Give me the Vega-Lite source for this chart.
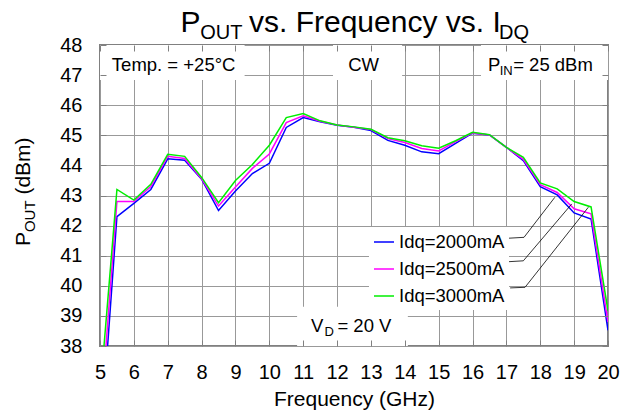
{
  "$schema": "https://vega.github.io/schema/vega-lite/v6.json",
  "width": 508,
  "height": 301,
  "autosize": {"type": "none"},
  "padding": {"left": 100, "top": 45, "right": 12, "bottom": 72},
  "background": "white",
  "config": {
    "font": "Liberation Sans",
    "view": {"stroke": "#808080", "strokeWidth": 2}
  },
  "datasets": {
    "curves": [
      {"f": 5, "p": 34.5, "s": "Idq=2000mA"}, {"f": 5.5, "p": 42.3, "s": "Idq=2000mA"}, {"f": 6, "p": 42.74, "s": "Idq=2000mA"}, {"f": 6.5, "p": 43.2, "s": "Idq=2000mA"},
      {"f": 7, "p": 44.22, "s": "Idq=2000mA"}, {"f": 7.5, "p": 44.17, "s": "Idq=2000mA"}, {"f": 8, "p": 43.54, "s": "Idq=2000mA"}, {"f": 8.5, "p": 42.5, "s": "Idq=2000mA"},
      {"f": 9, "p": 43.15, "s": "Idq=2000mA"}, {"f": 9.5, "p": 43.73, "s": "Idq=2000mA"}, {"f": 10, "p": 44.07, "s": "Idq=2000mA"}, {"f": 10.5, "p": 45.26, "s": "Idq=2000mA"},
      {"f": 11, "p": 45.59, "s": "Idq=2000mA"}, {"f": 11.5, "p": 45.45, "s": "Idq=2000mA"}, {"f": 12, "p": 45.33, "s": "Idq=2000mA"}, {"f": 12.5, "p": 45.27, "s": "Idq=2000mA"},
      {"f": 13, "p": 45.16, "s": "Idq=2000mA"}, {"f": 13.5, "p": 44.83, "s": "Idq=2000mA"}, {"f": 14, "p": 44.67, "s": "Idq=2000mA"}, {"f": 14.5, "p": 44.45, "s": "Idq=2000mA"},
      {"f": 15, "p": 44.39, "s": "Idq=2000mA"}, {"f": 15.5, "p": 44.73, "s": "Idq=2000mA"}, {"f": 16, "p": 45.07, "s": "Idq=2000mA"}, {"f": 16.5, "p": 45.01, "s": "Idq=2000mA"},
      {"f": 17, "p": 44.6, "s": "Idq=2000mA"}, {"f": 17.5, "p": 44.16, "s": "Idq=2000mA"}, {"f": 18, "p": 43.29, "s": "Idq=2000mA"}, {"f": 18.5, "p": 43.02, "s": "Idq=2000mA"},
      {"f": 19, "p": 42.42, "s": "Idq=2000mA"}, {"f": 19.5, "p": 42.22, "s": "Idq=2000mA"}, {"f": 20, "p": 38.52, "s": "Idq=2000mA"},
      {"f": 5, "p": 35.4, "s": "Idq=2500mA"}, {"f": 5.5, "p": 42.8, "s": "Idq=2500mA"}, {"f": 6, "p": 42.8, "s": "Idq=2500mA"}, {"f": 6.5, "p": 43.3, "s": "Idq=2500mA"},
      {"f": 7, "p": 44.3, "s": "Idq=2500mA"}, {"f": 7.5, "p": 44.23, "s": "Idq=2500mA"}, {"f": 8, "p": 43.56, "s": "Idq=2500mA"}, {"f": 8.5, "p": 42.65, "s": "Idq=2500mA"},
      {"f": 9, "p": 43.28, "s": "Idq=2500mA"}, {"f": 9.5, "p": 43.9, "s": "Idq=2500mA"}, {"f": 10, "p": 44.38, "s": "Idq=2500mA"}, {"f": 10.5, "p": 45.42, "s": "Idq=2500mA"},
      {"f": 11, "p": 45.65, "s": "Idq=2500mA"}, {"f": 11.5, "p": 45.47, "s": "Idq=2500mA"}, {"f": 12, "p": 45.34, "s": "Idq=2500mA"}, {"f": 12.5, "p": 45.27, "s": "Idq=2500mA"},
      {"f": 13, "p": 45.19, "s": "Idq=2500mA"}, {"f": 13.5, "p": 44.89, "s": "Idq=2500mA"}, {"f": 14, "p": 44.76, "s": "Idq=2500mA"}, {"f": 14.5, "p": 44.56, "s": "Idq=2500mA"},
      {"f": 15, "p": 44.48, "s": "Idq=2500mA"}, {"f": 15.5, "p": 44.79, "s": "Idq=2500mA"}, {"f": 16, "p": 45.08, "s": "Idq=2500mA"}, {"f": 16.5, "p": 45.01, "s": "Idq=2500mA"},
      {"f": 17, "p": 44.6, "s": "Idq=2500mA"}, {"f": 17.5, "p": 44.2, "s": "Idq=2500mA"}, {"f": 18, "p": 43.36, "s": "Idq=2500mA"}, {"f": 18.5, "p": 43.1, "s": "Idq=2500mA"},
      {"f": 19, "p": 42.56, "s": "Idq=2500mA"}, {"f": 19.5, "p": 42.39, "s": "Idq=2500mA"}, {"f": 20, "p": 38.8, "s": "Idq=2500mA"},
      {"f": 5, "p": 36.4, "s": "Idq=3000mA"}, {"f": 5.5, "p": 43.2, "s": "Idq=3000mA"}, {"f": 6, "p": 42.85, "s": "Idq=3000mA"}, {"f": 6.5, "p": 43.37, "s": "Idq=3000mA"},
      {"f": 7, "p": 44.37, "s": "Idq=3000mA"}, {"f": 7.5, "p": 44.3, "s": "Idq=3000mA"}, {"f": 8, "p": 43.6, "s": "Idq=3000mA"}, {"f": 8.5, "p": 42.76, "s": "Idq=3000mA"},
      {"f": 9, "p": 43.5, "s": "Idq=3000mA"}, {"f": 9.5, "p": 44.03, "s": "Idq=3000mA"}, {"f": 10, "p": 44.67, "s": "Idq=3000mA"}, {"f": 10.5, "p": 45.59, "s": "Idq=3000mA"},
      {"f": 11, "p": 45.72, "s": "Idq=3000mA"}, {"f": 11.5, "p": 45.48, "s": "Idq=3000mA"}, {"f": 12, "p": 45.34, "s": "Idq=3000mA"}, {"f": 12.5, "p": 45.28, "s": "Idq=3000mA"},
      {"f": 13, "p": 45.2, "s": "Idq=3000mA"}, {"f": 13.5, "p": 44.92, "s": "Idq=3000mA"}, {"f": 14, "p": 44.82, "s": "Idq=3000mA"}, {"f": 14.5, "p": 44.65, "s": "Idq=3000mA"},
      {"f": 15, "p": 44.57, "s": "Idq=3000mA"}, {"f": 15.5, "p": 44.82, "s": "Idq=3000mA"}, {"f": 16, "p": 45.1, "s": "Idq=3000mA"}, {"f": 16.5, "p": 45.02, "s": "Idq=3000mA"},
      {"f": 17, "p": 44.6, "s": "Idq=3000mA"}, {"f": 17.5, "p": 44.27, "s": "Idq=3000mA"}, {"f": 18, "p": 43.42, "s": "Idq=3000mA"}, {"f": 18.5, "p": 43.22, "s": "Idq=3000mA"},
      {"f": 19, "p": 42.8, "s": "Idq=3000mA"}, {"f": 19.5, "p": 42.62, "s": "Idq=3000mA"}, {"f": 20, "p": 39.17, "s": "Idq=3000mA"}
    ],
    "boxes": [
      {"x1": 5, "x2": 9.27, "y1": 46.84, "y2": 48},
      {"x1": 11.88, "x2": 13.92, "y1": 46.84, "y2": 48},
      {"x1": 16.25, "x2": 20, "y1": 46.84, "y2": 48},
      {"x1": 10.82, "x2": 14.09, "y1": 38, "y2": 39.3}
    ],
    "leaders": [
      {"id": 1, "k": 1, "x": 17.05, "y": 41.58}, {"id": 1, "k": 2, "x": 17.52, "y": 41.61}, {"id": 1, "k": 3, "x": 18.43, "y": 42.94},
      {"id": 2, "k": 1, "x": 17.05, "y": 40.8}, {"id": 2, "k": 2, "x": 17.5, "y": 40.83}, {"id": 2, "k": 3, "x": 18.93, "y": 42.72},
      {"id": 3, "k": 1, "x": 17.11, "y": 39.93}, {"id": 3, "k": 2, "x": 17.55, "y": 39.95}, {"id": 3, "k": 3, "x": 19.42, "y": 42.61}
    ],
    "notes": [
      {"x": 5.35, "y": 47.15, "t": "Temp. = +25°C"},
      {"x": 12.33, "y": 47.15, "t": "CW"},
      {"x": 16.456, "y": 47.15, "t": "P"},
      {"x": 17.2, "y": 47.15, "t": "= 25 dBm"},
      {"x": 11.23, "y": 38.475, "t": "V"},
      {"x": 12.01, "y": 38.475, "t": "= 20 V"}
    ],
    "notesub": [
      {"x": 16.8, "y": 46.99, "t": "IN"},
      {"x": 11.63, "y": 38.33, "t": "D"}
    ],
    "titlebig": [
      {"x": 7.377, "y": 48.442, "t": "P"},
      {"x": 9.399, "y": 48.442, "t": "vs. Frequency vs. I"}
    ],
    "titlesub": [
      {"x": 7.96, "y": 48.189, "t": "OUT"},
      {"x": 16.78, "y": 48.189, "t": "DQ"}
    ],
    "ytitlebig": [
      {"x": 2.933, "y": 41.32, "t": "P"},
      {"x": 2.933, "y": 43.03, "t": "(dBm)"}
    ],
    "ytitlesub": [
      {"x": 3.08, "y": 41.785, "t": "OUT"}
    ]
  },
  "resolve": {"axis": {"x": "independent", "y": "independent"}},
  "layer": [
    {
      "data": {"name": "boxes"},
      "mark": {"type": "rect", "fill": "white", "stroke": null},
      "encoding": {
        "x": {"field": "x1", "type": "quantitative", "scale": {"domain": [5, 20], "nice": false, "zero": false},
          "axis": {"orient": "top", "values": [5,6,7,8,9,10,11,12,13,14,15,16,17,18,19,20], "labels": false, "grid": false, "domain": false, "ticks": true, "tickSize": -6, "tickColor": "#808080", "tickWidth": 1, "title": null, "zindex": 1}},
        "x2": {"field": "x2"},
        "y": {"field": "y1", "type": "quantitative", "scale": {"domain": [38, 48], "nice": false, "zero": false},
          "axis": {"orient": "right", "values": [38,39,40,41,42,43,44,45,46,47,48], "labels": false, "grid": false, "domain": false, "ticks": true, "tickSize": -6, "tickColor": "#808080", "tickWidth": 1, "title": null, "zindex": 1}},
        "y2": {"field": "y2"}
      }
    },
    {
      "data": {"name": "curves"},
      "mark": {"type": "line", "clip": true, "strokeWidth": 1.5},
      "encoding": {
        "x": {"field": "f", "type": "quantitative", "scale": {"domain": [5, 20], "nice": false, "zero": false},
          "axis": {"orient": "bottom", "values": [5,6,7,8,9,10,11,12,13,14,15,16,17,18,19,20], "title": "Frequency (GHz)", "grid": true, "gridColor": "#999999", "gridWidth": 1, "domain": false, "ticks": false, "labelFontSize": 20, "labelColor": "black", "labelPadding": 16, "labelFlush": false, "labelOverlap": false, "titleFontSize": 21, "titleFontWeight": "normal", "titleColor": "black", "titlePadding": 6, "zindex": 0}},
        "y": {"field": "p", "type": "quantitative", "scale": {"domain": [38, 48], "nice": false, "zero": false},
          "axis": {"orient": "left", "values": [38,39,40,41,42,43,44,45,46,47,48], "title": null, "grid": true, "gridColor": "#999999", "gridWidth": 1, "domain": false, "ticks": false, "labelFontSize": 20, "labelColor": "black", "labelPadding": 18, "labelOverlap": false, "labelFlush": false, "zindex": 0}},
        "color": {"field": "s", "type": "nominal",
          "scale": {"domain": ["Idq=2000mA", "Idq=2500mA", "Idq=3000mA"], "range": ["#0000ff", "#ff00ff", "#00ee00"]},
          "legend": {"orient": "none", "legendX": 269, "legendY": 182, "title": null, "symbolType": "stroke", "symbolSize": 400, "symbolStrokeWidth": 1.5, "labelFontSize": 18.5, "labelColor": "black", "fillColor": "white", "padding": 4, "rowPadding": 6, "labelOffset": 4}}
      }
    },
    {
      "data": {"name": "leaders"},
      "mark": {"type": "line", "color": "black", "strokeWidth": 0.8},
      "encoding": {
        "x": {"field": "x", "type": "quantitative", "scale": {"domain": [5, 20], "nice": false, "zero": false},
          "axis": {"orient": "bottom", "values": [5,6,7,8,9,10,11,12,13,14,15,16,17,18,19,20], "labels": false, "grid": false, "domain": false, "ticks": true, "tickSize": -6, "tickColor": "#808080", "tickWidth": 1, "title": null, "zindex": 1}},
        "y": {"field": "y", "type": "quantitative", "scale": {"domain": [38, 48], "nice": false, "zero": false},
          "axis": {"orient": "left", "values": [38,39,40,41,42,43,44,45,46,47,48], "labels": false, "grid": false, "domain": false, "ticks": true, "tickSize": -6, "tickColor": "#808080", "tickWidth": 1, "title": null, "zindex": 1}},
        "detail": {"field": "id", "type": "nominal"},
        "order": {"field": "k", "type": "quantitative"}
      }
    },
    {
      "data": {"name": "notes"},
      "mark": {"type": "text", "align": "left", "baseline": "alphabetic", "fontSize": 18.5, "color": "black"},
      "encoding": {
        "x": {"field": "x", "type": "quantitative", "scale": {"domain": [5, 20], "nice": false, "zero": false}, "axis": null},
        "y": {"field": "y", "type": "quantitative", "scale": {"domain": [38, 48], "nice": false, "zero": false}, "axis": null},
        "text": {"field": "t"}
      }
    },
    {
      "data": {"name": "notesub"},
      "mark": {"type": "text", "align": "left", "baseline": "alphabetic", "fontSize": 13, "color": "black"},
      "encoding": {
        "x": {"field": "x", "type": "quantitative", "scale": {"domain": [5, 20], "nice": false, "zero": false}, "axis": null},
        "y": {"field": "y", "type": "quantitative", "scale": {"domain": [38, 48], "nice": false, "zero": false}, "axis": null},
        "text": {"field": "t"}
      }
    },
    {
      "data": {"name": "titlebig"},
      "mark": {"type": "text", "align": "left", "baseline": "alphabetic", "fontSize": 30, "color": "black"},
      "encoding": {
        "x": {"field": "x", "type": "quantitative", "scale": {"domain": [5, 20], "nice": false, "zero": false}, "axis": null},
        "y": {"field": "y", "type": "quantitative", "scale": {"domain": [38, 48], "nice": false, "zero": false}, "axis": null},
        "text": {"field": "t"}
      }
    },
    {
      "data": {"name": "titlesub"},
      "mark": {"type": "text", "align": "left", "baseline": "alphabetic", "fontSize": 20, "color": "black"},
      "encoding": {
        "x": {"field": "x", "type": "quantitative", "scale": {"domain": [5, 20], "nice": false, "zero": false}, "axis": null},
        "y": {"field": "y", "type": "quantitative", "scale": {"domain": [38, 48], "nice": false, "zero": false}, "axis": null},
        "text": {"field": "t"}
      }
    },
    {
      "data": {"name": "ytitlebig"},
      "mark": {"type": "text", "align": "left", "baseline": "alphabetic", "fontSize": 21, "angle": 270, "color": "black"},
      "encoding": {
        "x": {"field": "x", "type": "quantitative", "scale": {"domain": [5, 20], "nice": false, "zero": false}, "axis": null},
        "y": {"field": "y", "type": "quantitative", "scale": {"domain": [38, 48], "nice": false, "zero": false}, "axis": null},
        "text": {"field": "t"}
      }
    },
    {
      "data": {"name": "ytitlesub"},
      "mark": {"type": "text", "align": "left", "baseline": "alphabetic", "fontSize": 15, "angle": 270, "color": "black"},
      "encoding": {
        "x": {"field": "x", "type": "quantitative", "scale": {"domain": [5, 20], "nice": false, "zero": false}, "axis": null},
        "y": {"field": "y", "type": "quantitative", "scale": {"domain": [38, 48], "nice": false, "zero": false}, "axis": null},
        "text": {"field": "t"}
      }
    }
  ]
}
